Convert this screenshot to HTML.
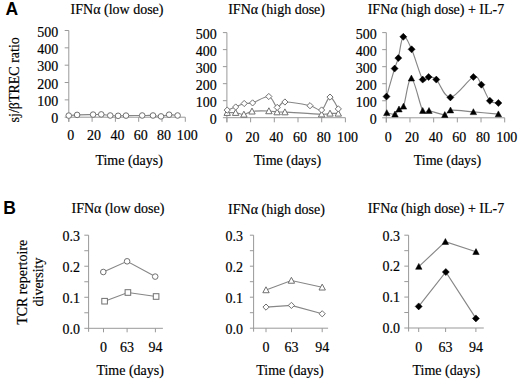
<!DOCTYPE html>
<html><head><meta charset="utf-8"><style>
html,body{margin:0;padding:0;background:#fff;width:520px;height:382px;overflow:hidden}
svg{display:block}
text{font-family:"Liberation Serif", serif;fill:#000;stroke:#000;stroke-width:0.18px}
text.pl{font-family:"Liberation Sans", sans-serif;font-weight:bold;stroke:none}
</style></head><body>
<svg width="520" height="382" viewBox="0 0 520 382">
<rect width="520" height="382" fill="#fff"/>
<line x1="68.80" y1="30.50" x2="68.80" y2="121.80" stroke="#999" stroke-width="1"/>
<line x1="64.70" y1="30.50" x2="68.80" y2="30.50" stroke="#999" stroke-width="1"/>
<text x="58.30" y="36.50" text-anchor="end" font-size="14" >500</text>
<line x1="64.70" y1="47.84" x2="68.80" y2="47.84" stroke="#999" stroke-width="1"/>
<text x="58.30" y="53.84" text-anchor="end" font-size="14" >400</text>
<line x1="64.70" y1="65.18" x2="68.80" y2="65.18" stroke="#999" stroke-width="1"/>
<text x="58.30" y="71.18" text-anchor="end" font-size="14" >300</text>
<line x1="64.70" y1="82.52" x2="68.80" y2="82.52" stroke="#999" stroke-width="1"/>
<text x="58.30" y="88.52" text-anchor="end" font-size="14" >200</text>
<line x1="64.70" y1="99.86" x2="68.80" y2="99.86" stroke="#999" stroke-width="1"/>
<text x="58.30" y="105.86" text-anchor="end" font-size="14" >100</text>
<line x1="64.70" y1="117.20" x2="68.80" y2="117.20" stroke="#999" stroke-width="1"/>
<text x="58.30" y="123.20" text-anchor="end" font-size="14" >0</text>
<line x1="68.80" y1="117.20" x2="185.30" y2="117.20" stroke="#999" stroke-width="1"/>
<line x1="68.80" y1="117.20" x2="68.80" y2="121.80" stroke="#999" stroke-width="1"/>
<text x="70.80" y="139.90" text-anchor="middle" font-size="14" >0</text>
<line x1="92.10" y1="117.20" x2="92.10" y2="121.80" stroke="#999" stroke-width="1"/>
<text x="94.10" y="139.90" text-anchor="middle" font-size="14" >20</text>
<line x1="115.40" y1="117.20" x2="115.40" y2="121.80" stroke="#999" stroke-width="1"/>
<text x="117.40" y="139.90" text-anchor="middle" font-size="14" >40</text>
<line x1="138.70" y1="117.20" x2="138.70" y2="121.80" stroke="#999" stroke-width="1"/>
<text x="140.70" y="139.90" text-anchor="middle" font-size="14" >60</text>
<line x1="162.00" y1="117.20" x2="162.00" y2="121.80" stroke="#999" stroke-width="1"/>
<text x="164.00" y="139.90" text-anchor="middle" font-size="14" >80</text>
<line x1="185.30" y1="117.20" x2="185.30" y2="121.80" stroke="#999" stroke-width="1"/>
<text x="187.30" y="139.90" text-anchor="middle" font-size="14" >100</text>
<line x1="226.90" y1="32.60" x2="226.90" y2="122.30" stroke="#999" stroke-width="1"/>
<line x1="222.90" y1="32.60" x2="226.90" y2="32.60" stroke="#999" stroke-width="1"/>
<text x="216.70" y="38.60" text-anchor="end" font-size="14" >500</text>
<line x1="222.90" y1="49.62" x2="226.90" y2="49.62" stroke="#999" stroke-width="1"/>
<text x="216.70" y="55.62" text-anchor="end" font-size="14" >400</text>
<line x1="222.90" y1="66.64" x2="226.90" y2="66.64" stroke="#999" stroke-width="1"/>
<text x="216.70" y="72.64" text-anchor="end" font-size="14" >300</text>
<line x1="222.90" y1="83.66" x2="226.90" y2="83.66" stroke="#999" stroke-width="1"/>
<text x="216.70" y="89.66" text-anchor="end" font-size="14" >200</text>
<line x1="222.90" y1="100.68" x2="226.90" y2="100.68" stroke="#999" stroke-width="1"/>
<text x="216.70" y="106.68" text-anchor="end" font-size="14" >100</text>
<line x1="222.90" y1="117.70" x2="226.90" y2="117.70" stroke="#999" stroke-width="1"/>
<text x="216.70" y="123.70" text-anchor="end" font-size="14" >0</text>
<line x1="226.90" y1="117.70" x2="345.40" y2="117.70" stroke="#999" stroke-width="1"/>
<line x1="226.90" y1="117.70" x2="226.90" y2="122.30" stroke="#999" stroke-width="1"/>
<text x="228.90" y="141.80" text-anchor="middle" font-size="14" >0</text>
<line x1="250.60" y1="117.70" x2="250.60" y2="122.30" stroke="#999" stroke-width="1"/>
<text x="252.60" y="141.80" text-anchor="middle" font-size="14" >20</text>
<line x1="274.30" y1="117.70" x2="274.30" y2="122.30" stroke="#999" stroke-width="1"/>
<text x="276.30" y="141.80" text-anchor="middle" font-size="14" >40</text>
<line x1="298.00" y1="117.70" x2="298.00" y2="122.30" stroke="#999" stroke-width="1"/>
<text x="300.00" y="141.80" text-anchor="middle" font-size="14" >60</text>
<line x1="321.70" y1="117.70" x2="321.70" y2="122.30" stroke="#999" stroke-width="1"/>
<text x="323.70" y="141.80" text-anchor="middle" font-size="14" >80</text>
<line x1="345.40" y1="117.70" x2="345.40" y2="122.30" stroke="#999" stroke-width="1"/>
<text x="347.40" y="141.80" text-anchor="middle" font-size="14" >100</text>
<line x1="386.30" y1="32.60" x2="386.30" y2="122.40" stroke="#999" stroke-width="1"/>
<line x1="382.20" y1="32.60" x2="386.30" y2="32.60" stroke="#999" stroke-width="1"/>
<text x="376.80" y="38.60" text-anchor="end" font-size="14" >500</text>
<line x1="382.20" y1="49.64" x2="386.30" y2="49.64" stroke="#999" stroke-width="1"/>
<text x="376.80" y="55.64" text-anchor="end" font-size="14" >400</text>
<line x1="382.20" y1="66.68" x2="386.30" y2="66.68" stroke="#999" stroke-width="1"/>
<text x="376.80" y="72.68" text-anchor="end" font-size="14" >300</text>
<line x1="382.20" y1="83.72" x2="386.30" y2="83.72" stroke="#999" stroke-width="1"/>
<text x="376.80" y="89.72" text-anchor="end" font-size="14" >200</text>
<line x1="382.20" y1="100.76" x2="386.30" y2="100.76" stroke="#999" stroke-width="1"/>
<text x="376.80" y="106.76" text-anchor="end" font-size="14" >100</text>
<line x1="382.20" y1="117.80" x2="386.30" y2="117.80" stroke="#999" stroke-width="1"/>
<text x="376.80" y="123.80" text-anchor="end" font-size="14" >0</text>
<line x1="386.30" y1="117.80" x2="504.70" y2="117.80" stroke="#999" stroke-width="1"/>
<line x1="386.30" y1="117.80" x2="386.30" y2="122.40" stroke="#999" stroke-width="1"/>
<text x="388.30" y="141.80" text-anchor="middle" font-size="14" >0</text>
<line x1="409.98" y1="117.80" x2="409.98" y2="122.40" stroke="#999" stroke-width="1"/>
<text x="411.98" y="141.80" text-anchor="middle" font-size="14" >20</text>
<line x1="433.66" y1="117.80" x2="433.66" y2="122.40" stroke="#999" stroke-width="1"/>
<text x="435.66" y="141.80" text-anchor="middle" font-size="14" >40</text>
<line x1="457.34" y1="117.80" x2="457.34" y2="122.40" stroke="#999" stroke-width="1"/>
<text x="459.34" y="141.80" text-anchor="middle" font-size="14" >60</text>
<line x1="481.02" y1="117.80" x2="481.02" y2="122.40" stroke="#999" stroke-width="1"/>
<text x="483.02" y="141.80" text-anchor="middle" font-size="14" >80</text>
<line x1="504.70" y1="117.80" x2="504.70" y2="122.40" stroke="#999" stroke-width="1"/>
<text x="506.70" y="141.80" text-anchor="middle" font-size="14" >100</text>
<text x="70.60" y="13.90" text-anchor="start" font-size="14" >IFNα (low dose)</text>
<text x="228.20" y="13.70" text-anchor="start" font-size="14" >IFNα (high dose)</text>
<text x="367.70" y="13.70" text-anchor="start" font-size="14" >IFNα (high dose) + IL-7</text>
<text x="95.40" y="164.70" text-anchor="start" font-size="14" >Time (days)</text>
<text x="253.70" y="164.70" text-anchor="start" font-size="14" >Time (days)</text>
<text x="413.70" y="164.70" text-anchor="start" font-size="14" >Time (days)</text>
<text transform="translate(18.5,79.8) rotate(-90)" text-anchor="middle" font-size="14">sj/βTREC ratio</text>
<path d="M68.75,115.60 C70.14,115.48 73.04,115.07 77.10,114.90 C81.16,114.73 89.07,114.68 93.10,114.60 C97.12,114.52 98.39,114.25 101.25,114.40 C104.11,114.55 107.44,115.27 110.25,115.50 C113.06,115.73 115.47,115.78 118.10,115.80 C120.72,115.82 121.98,115.65 126.00,115.60 C130.02,115.55 137.70,115.52 142.20,115.50 C146.70,115.48 149.87,115.35 153.00,115.50 C156.13,115.65 158.32,116.53 161.00,116.40 C163.68,116.27 166.33,114.85 169.10,114.70 C171.87,114.55 176.18,115.37 177.60,115.50" fill="none" stroke="#868686" stroke-width="1.15"/>
<circle cx="68.75" cy="115.60" r="2.8" fill="#fff" stroke="#707070" stroke-width="1"/>
<circle cx="77.10" cy="114.90" r="2.8" fill="#fff" stroke="#707070" stroke-width="1"/>
<circle cx="93.10" cy="114.60" r="2.8" fill="#fff" stroke="#707070" stroke-width="1"/>
<circle cx="101.25" cy="114.40" r="2.8" fill="#fff" stroke="#707070" stroke-width="1"/>
<circle cx="110.25" cy="115.50" r="2.8" fill="#fff" stroke="#707070" stroke-width="1"/>
<circle cx="118.10" cy="115.80" r="2.8" fill="#fff" stroke="#707070" stroke-width="1"/>
<circle cx="126.00" cy="115.60" r="2.8" fill="#fff" stroke="#707070" stroke-width="1"/>
<circle cx="142.20" cy="115.50" r="2.8" fill="#fff" stroke="#707070" stroke-width="1"/>
<circle cx="153.00" cy="115.50" r="2.8" fill="#fff" stroke="#707070" stroke-width="1"/>
<circle cx="161.00" cy="116.40" r="2.8" fill="#fff" stroke="#707070" stroke-width="1"/>
<circle cx="169.10" cy="114.70" r="2.8" fill="#fff" stroke="#707070" stroke-width="1"/>
<circle cx="177.60" cy="115.50" r="2.8" fill="#fff" stroke="#707070" stroke-width="1"/>
<path d="M227.20,112.70 C228.60,112.70 232.82,112.42 235.60,112.70 C238.38,112.98 241.17,114.63 243.90,114.40 C246.63,114.17 247.83,111.87 252.00,111.30 C256.17,110.73 264.72,110.87 268.90,111.00 C273.08,111.13 274.43,111.92 277.10,112.10 C279.77,112.28 277.48,111.75 284.90,112.10 C292.32,112.45 314.08,113.98 321.60,114.20 C329.12,114.42 327.22,113.53 330.00,113.40 C332.78,113.27 336.92,113.40 338.30,113.40" fill="none" stroke="#868686" stroke-width="1.15"/>
<path d="M227.20,110.10 C228.62,109.58 232.87,108.10 235.70,107.00 C238.53,105.90 241.38,104.18 244.20,103.50 C247.02,102.82 248.50,104.07 252.60,102.90 C256.70,101.73 264.70,95.75 268.80,96.50 C272.90,97.25 274.52,106.48 277.20,107.40 C279.88,108.32 279.43,102.28 284.90,102.00 C290.37,101.72 303.88,104.37 310.00,105.70 C316.12,107.03 318.27,111.43 321.60,110.00 C324.93,108.57 327.22,97.28 330.00,97.10 C332.78,96.92 336.92,106.93 338.30,108.90" fill="none" stroke="#868686" stroke-width="1.15"/>
<path d="M227.20,109.50 L230.40,115.42 L224.00,115.42 Z" fill="#fff" stroke="#707070" stroke-width="1"/>
<path d="M235.60,109.50 L238.80,115.42 L232.40,115.42 Z" fill="#fff" stroke="#707070" stroke-width="1"/>
<path d="M243.90,111.20 L247.10,117.12 L240.70,117.12 Z" fill="#fff" stroke="#707070" stroke-width="1"/>
<path d="M252.00,108.10 L255.20,114.02 L248.80,114.02 Z" fill="#fff" stroke="#707070" stroke-width="1"/>
<path d="M268.90,107.80 L272.10,113.72 L265.70,113.72 Z" fill="#fff" stroke="#707070" stroke-width="1"/>
<path d="M277.10,108.90 L280.30,114.82 L273.90,114.82 Z" fill="#fff" stroke="#707070" stroke-width="1"/>
<path d="M284.90,108.90 L288.10,114.82 L281.70,114.82 Z" fill="#fff" stroke="#707070" stroke-width="1"/>
<path d="M321.60,111.00 L324.80,116.92 L318.40,116.92 Z" fill="#fff" stroke="#707070" stroke-width="1"/>
<path d="M330.00,110.20 L333.20,116.12 L326.80,116.12 Z" fill="#fff" stroke="#707070" stroke-width="1"/>
<path d="M338.30,110.20 L341.50,116.12 L335.10,116.12 Z" fill="#fff" stroke="#707070" stroke-width="1"/>
<path d="M227.20,107.00 L230.30,110.10 L227.20,113.20 L224.10,110.10 Z" fill="#fff" stroke="#707070" stroke-width="1"/>
<path d="M235.70,103.90 L238.80,107.00 L235.70,110.10 L232.60,107.00 Z" fill="#fff" stroke="#707070" stroke-width="1"/>
<path d="M244.20,100.40 L247.30,103.50 L244.20,106.60 L241.10,103.50 Z" fill="#fff" stroke="#707070" stroke-width="1"/>
<path d="M252.60,99.80 L255.70,102.90 L252.60,106.00 L249.50,102.90 Z" fill="#fff" stroke="#707070" stroke-width="1"/>
<path d="M268.80,93.40 L271.90,96.50 L268.80,99.60 L265.70,96.50 Z" fill="#fff" stroke="#707070" stroke-width="1"/>
<path d="M277.20,104.30 L280.30,107.40 L277.20,110.50 L274.10,107.40 Z" fill="#fff" stroke="#707070" stroke-width="1"/>
<path d="M284.90,98.90 L288.00,102.00 L284.90,105.10 L281.80,102.00 Z" fill="#fff" stroke="#707070" stroke-width="1"/>
<path d="M310.00,102.60 L313.10,105.70 L310.00,108.80 L306.90,105.70 Z" fill="#fff" stroke="#707070" stroke-width="1"/>
<path d="M321.60,106.90 L324.70,110.00 L321.60,113.10 L318.50,110.00 Z" fill="#fff" stroke="#707070" stroke-width="1"/>
<path d="M330.00,94.00 L333.10,97.10 L330.00,100.20 L326.90,97.10 Z" fill="#fff" stroke="#707070" stroke-width="1"/>
<path d="M338.30,105.80 L341.40,108.90 L338.30,112.00 L335.20,108.90 Z" fill="#fff" stroke="#707070" stroke-width="1"/>
<path d="M386.80,112.90 C388.17,113.12 392.97,114.82 395.00,114.20 C397.03,113.58 397.58,110.50 399.00,109.20 C400.42,107.90 401.43,111.55 403.50,106.40 C405.57,101.25 408.20,77.58 411.40,78.30 C414.60,79.02 419.77,105.30 422.70,110.70 C425.63,116.10 425.32,110.02 429.00,110.70 C432.68,111.38 441.22,114.88 444.80,114.80 C448.38,114.72 445.73,110.68 450.50,110.20 C455.27,109.72 465.42,111.25 473.40,111.90 C481.38,112.55 494.23,113.73 498.40,114.10" fill="none" stroke="#868686" stroke-width="1.15"/>
<path d="M386.50,96.60 C387.85,91.93 392.63,75.02 394.60,68.60 C396.57,62.18 396.85,63.40 398.30,58.10 C399.75,52.80 401.08,38.27 403.30,36.80 C405.52,35.33 408.37,42.17 411.60,49.30 C414.83,56.43 419.87,74.98 422.70,79.60 C425.53,84.22 426.33,77.00 428.60,77.00 C430.87,77.00 432.67,76.20 436.30,79.60 C439.93,83.00 444.22,97.83 450.40,97.40 C456.58,96.97 468.23,79.12 473.40,77.00 C478.57,74.88 478.65,80.73 481.40,84.70 C484.15,88.67 487.07,97.75 489.90,100.80 C492.73,103.85 496.98,102.63 498.40,103.00" fill="none" stroke="#868686" stroke-width="1.15"/>
<path d="M386.80,109.70 L390.00,115.62 L383.60,115.62 Z" fill="#000" stroke="#000" stroke-width="0.5"/>
<path d="M395.00,111.00 L398.20,116.92 L391.80,116.92 Z" fill="#000" stroke="#000" stroke-width="0.5"/>
<path d="M399.00,106.00 L402.20,111.92 L395.80,111.92 Z" fill="#000" stroke="#000" stroke-width="0.5"/>
<path d="M403.50,103.20 L406.70,109.12 L400.30,109.12 Z" fill="#000" stroke="#000" stroke-width="0.5"/>
<path d="M411.40,75.10 L414.60,81.02 L408.20,81.02 Z" fill="#000" stroke="#000" stroke-width="0.5"/>
<path d="M422.70,107.50 L425.90,113.42 L419.50,113.42 Z" fill="#000" stroke="#000" stroke-width="0.5"/>
<path d="M429.00,107.50 L432.20,113.42 L425.80,113.42 Z" fill="#000" stroke="#000" stroke-width="0.5"/>
<path d="M444.80,111.60 L448.00,117.52 L441.60,117.52 Z" fill="#000" stroke="#000" stroke-width="0.5"/>
<path d="M450.50,107.00 L453.70,112.92 L447.30,112.92 Z" fill="#000" stroke="#000" stroke-width="0.5"/>
<path d="M473.40,108.70 L476.60,114.62 L470.20,114.62 Z" fill="#000" stroke="#000" stroke-width="0.5"/>
<path d="M498.40,110.90 L501.60,116.82 L495.20,116.82 Z" fill="#000" stroke="#000" stroke-width="0.5"/>
<path d="M386.50,93.10 L390.00,96.60 L386.50,100.10 L383.00,96.60 Z" fill="#000" stroke="#000" stroke-width="0.5"/>
<path d="M394.60,65.10 L398.10,68.60 L394.60,72.10 L391.10,68.60 Z" fill="#000" stroke="#000" stroke-width="0.5"/>
<path d="M398.30,54.60 L401.80,58.10 L398.30,61.60 L394.80,58.10 Z" fill="#000" stroke="#000" stroke-width="0.5"/>
<path d="M403.30,33.30 L406.80,36.80 L403.30,40.30 L399.80,36.80 Z" fill="#000" stroke="#000" stroke-width="0.5"/>
<path d="M411.60,45.80 L415.10,49.30 L411.60,52.80 L408.10,49.30 Z" fill="#000" stroke="#000" stroke-width="0.5"/>
<path d="M422.70,76.10 L426.20,79.60 L422.70,83.10 L419.20,79.60 Z" fill="#000" stroke="#000" stroke-width="0.5"/>
<path d="M428.60,73.50 L432.10,77.00 L428.60,80.50 L425.10,77.00 Z" fill="#000" stroke="#000" stroke-width="0.5"/>
<path d="M436.30,76.10 L439.80,79.60 L436.30,83.10 L432.80,79.60 Z" fill="#000" stroke="#000" stroke-width="0.5"/>
<path d="M450.40,93.90 L453.90,97.40 L450.40,100.90 L446.90,97.40 Z" fill="#000" stroke="#000" stroke-width="0.5"/>
<path d="M473.40,73.50 L476.90,77.00 L473.40,80.50 L469.90,77.00 Z" fill="#000" stroke="#000" stroke-width="0.5"/>
<path d="M481.40,81.20 L484.90,84.70 L481.40,88.20 L477.90,84.70 Z" fill="#000" stroke="#000" stroke-width="0.5"/>
<path d="M489.90,97.30 L493.40,100.80 L489.90,104.30 L486.40,100.80 Z" fill="#000" stroke="#000" stroke-width="0.5"/>
<path d="M498.40,99.50 L501.90,103.00 L498.40,106.50 L494.90,103.00 Z" fill="#000" stroke="#000" stroke-width="0.5"/>
<line x1="88.60" y1="235.20" x2="88.60" y2="331.80" stroke="#999" stroke-width="1"/>
<line x1="84.30" y1="235.20" x2="88.60" y2="235.20" stroke="#999" stroke-width="1"/>
<text x="80.00" y="240.50" text-anchor="end" font-size="14" >0.3</text>
<line x1="84.30" y1="250.72" x2="88.60" y2="250.72" stroke="#999" stroke-width="1"/>
<line x1="84.30" y1="266.23" x2="88.60" y2="266.23" stroke="#999" stroke-width="1"/>
<text x="80.00" y="271.53" text-anchor="end" font-size="14" >0.2</text>
<line x1="84.30" y1="281.75" x2="88.60" y2="281.75" stroke="#999" stroke-width="1"/>
<line x1="84.30" y1="297.27" x2="88.60" y2="297.27" stroke="#999" stroke-width="1"/>
<text x="80.00" y="302.57" text-anchor="end" font-size="14" >0.1</text>
<line x1="84.30" y1="312.78" x2="88.60" y2="312.78" stroke="#999" stroke-width="1"/>
<line x1="84.30" y1="328.30" x2="88.60" y2="328.30" stroke="#999" stroke-width="1"/>
<text x="80.00" y="333.60" text-anchor="end" font-size="14" >0.0</text>
<line x1="88.60" y1="328.30" x2="162.90" y2="328.30" stroke="#999" stroke-width="1"/>
<line x1="103.50" y1="328.30" x2="103.50" y2="332.30" stroke="#999" stroke-width="1"/>
<text x="103.50" y="352.20" text-anchor="middle" font-size="14" >0</text>
<line x1="127.10" y1="328.30" x2="127.10" y2="332.30" stroke="#999" stroke-width="1"/>
<text x="127.10" y="352.20" text-anchor="middle" font-size="14" >63</text>
<line x1="155.40" y1="328.30" x2="155.40" y2="332.30" stroke="#999" stroke-width="1"/>
<text x="155.40" y="352.20" text-anchor="middle" font-size="14" >94</text>
<line x1="253.60" y1="235.20" x2="253.60" y2="331.70" stroke="#999" stroke-width="1"/>
<line x1="249.90" y1="235.20" x2="253.60" y2="235.20" stroke="#999" stroke-width="1"/>
<text x="243.00" y="240.50" text-anchor="end" font-size="14" >0.3</text>
<line x1="249.90" y1="250.70" x2="253.60" y2="250.70" stroke="#999" stroke-width="1"/>
<line x1="249.90" y1="266.20" x2="253.60" y2="266.20" stroke="#999" stroke-width="1"/>
<text x="243.00" y="271.50" text-anchor="end" font-size="14" >0.2</text>
<line x1="249.90" y1="281.70" x2="253.60" y2="281.70" stroke="#999" stroke-width="1"/>
<line x1="249.90" y1="297.20" x2="253.60" y2="297.20" stroke="#999" stroke-width="1"/>
<text x="243.00" y="302.50" text-anchor="end" font-size="14" >0.1</text>
<line x1="249.90" y1="312.70" x2="253.60" y2="312.70" stroke="#999" stroke-width="1"/>
<line x1="249.90" y1="328.20" x2="253.60" y2="328.20" stroke="#999" stroke-width="1"/>
<text x="243.00" y="333.50" text-anchor="end" font-size="14" >0.0</text>
<line x1="253.60" y1="328.20" x2="328.10" y2="328.20" stroke="#999" stroke-width="1"/>
<line x1="266.00" y1="328.20" x2="266.00" y2="332.20" stroke="#999" stroke-width="1"/>
<text x="266.00" y="352.20" text-anchor="middle" font-size="14" >0</text>
<line x1="291.50" y1="328.20" x2="291.50" y2="332.20" stroke="#999" stroke-width="1"/>
<text x="291.50" y="352.20" text-anchor="middle" font-size="14" >63</text>
<line x1="322.20" y1="328.20" x2="322.20" y2="332.20" stroke="#999" stroke-width="1"/>
<text x="322.20" y="352.20" text-anchor="middle" font-size="14" >94</text>
<line x1="408.60" y1="235.20" x2="408.60" y2="331.50" stroke="#999" stroke-width="1"/>
<line x1="404.30" y1="235.20" x2="408.60" y2="235.20" stroke="#999" stroke-width="1"/>
<text x="400.00" y="240.50" text-anchor="end" font-size="14" >0.3</text>
<line x1="404.30" y1="250.67" x2="408.60" y2="250.67" stroke="#999" stroke-width="1"/>
<line x1="404.30" y1="266.13" x2="408.60" y2="266.13" stroke="#999" stroke-width="1"/>
<text x="400.00" y="271.43" text-anchor="end" font-size="14" >0.2</text>
<line x1="404.30" y1="281.60" x2="408.60" y2="281.60" stroke="#999" stroke-width="1"/>
<line x1="404.30" y1="297.07" x2="408.60" y2="297.07" stroke="#999" stroke-width="1"/>
<text x="400.00" y="302.37" text-anchor="end" font-size="14" >0.1</text>
<line x1="404.30" y1="312.53" x2="408.60" y2="312.53" stroke="#999" stroke-width="1"/>
<line x1="404.30" y1="328.00" x2="408.60" y2="328.00" stroke="#999" stroke-width="1"/>
<text x="400.00" y="333.30" text-anchor="end" font-size="14" >0.0</text>
<line x1="408.60" y1="328.00" x2="483.80" y2="328.00" stroke="#999" stroke-width="1"/>
<line x1="418.70" y1="328.00" x2="418.70" y2="332.00" stroke="#999" stroke-width="1"/>
<text x="418.70" y="352.20" text-anchor="middle" font-size="14" >0</text>
<line x1="445.60" y1="328.00" x2="445.60" y2="332.00" stroke="#999" stroke-width="1"/>
<text x="445.60" y="352.20" text-anchor="middle" font-size="14" >63</text>
<line x1="475.90" y1="328.00" x2="475.90" y2="332.00" stroke="#999" stroke-width="1"/>
<text x="475.90" y="352.20" text-anchor="middle" font-size="14" >94</text>
<text x="71.50" y="212.90" text-anchor="start" font-size="14" >IFNα (low dose)</text>
<text x="228.10" y="213.60" text-anchor="start" font-size="14" >IFNα (high dose)</text>
<text x="367.70" y="213.20" text-anchor="start" font-size="14" >IFNα (high dose) + IL-7</text>
<text x="96.40" y="374.60" text-anchor="start" font-size="14" >Time (days)</text>
<text x="256.20" y="374.60" text-anchor="start" font-size="14" >Time (days)</text>
<text x="412.50" y="374.60" text-anchor="start" font-size="14" >Time (days)</text>
<text transform="translate(26.8,282.3) rotate(-90)" text-anchor="middle" font-size="14">TCR repertoire</text>
<text transform="translate(42.8,282.0) rotate(-90)" text-anchor="middle" font-size="14">diversity</text>
<path d="M103.30,272.00 L127.10,261.30 L155.20,276.60" fill="none" stroke="#868686" stroke-width="1.15"/>
<path d="M104.60,301.20 L127.90,292.50 L156.10,296.50" fill="none" stroke="#868686" stroke-width="1.15"/>
<circle cx="103.30" cy="272.00" r="2.8" fill="#fff" stroke="#707070" stroke-width="1"/>
<circle cx="127.10" cy="261.30" r="2.8" fill="#fff" stroke="#707070" stroke-width="1"/>
<circle cx="155.20" cy="276.60" r="2.8" fill="#fff" stroke="#707070" stroke-width="1"/>
<rect x="101.80" y="298.40" width="5.6" height="5.6" fill="#fff" stroke="#707070" stroke-width="1"/>
<rect x="125.10" y="289.70" width="5.6" height="5.6" fill="#fff" stroke="#707070" stroke-width="1"/>
<rect x="153.30" y="293.70" width="5.6" height="5.6" fill="#fff" stroke="#707070" stroke-width="1"/>
<path d="M266.00,290.00 L291.40,280.50 L322.20,287.30" fill="none" stroke="#868686" stroke-width="1.15"/>
<path d="M266.00,307.10 L291.40,305.40 L322.20,313.80" fill="none" stroke="#868686" stroke-width="1.15"/>
<path d="M266.00,286.80 L269.20,292.72 L262.80,292.72 Z" fill="#fff" stroke="#707070" stroke-width="1"/>
<path d="M291.40,277.30 L294.60,283.22 L288.20,283.22 Z" fill="#fff" stroke="#707070" stroke-width="1"/>
<path d="M322.20,284.10 L325.40,290.02 L319.00,290.02 Z" fill="#fff" stroke="#707070" stroke-width="1"/>
<path d="M266.00,304.00 L269.10,307.10 L266.00,310.20 L262.90,307.10 Z" fill="#fff" stroke="#707070" stroke-width="1"/>
<path d="M291.40,302.30 L294.50,305.40 L291.40,308.50 L288.30,305.40 Z" fill="#fff" stroke="#707070" stroke-width="1"/>
<path d="M322.20,310.70 L325.30,313.80 L322.20,316.90 L319.10,313.80 Z" fill="#fff" stroke="#707070" stroke-width="1"/>
<path d="M418.80,266.60 L445.40,241.70 L476.00,251.80" fill="none" stroke="#868686" stroke-width="1.15"/>
<path d="M418.70,306.40 L445.80,272.00 L475.90,318.40" fill="none" stroke="#868686" stroke-width="1.15"/>
<path d="M418.80,263.40 L422.00,269.32 L415.60,269.32 Z" fill="#000" stroke="#000" stroke-width="0.5"/>
<path d="M445.40,238.50 L448.60,244.42 L442.20,244.42 Z" fill="#000" stroke="#000" stroke-width="0.5"/>
<path d="M476.00,248.60 L479.20,254.52 L472.80,254.52 Z" fill="#000" stroke="#000" stroke-width="0.5"/>
<path d="M418.70,302.90 L422.20,306.40 L418.70,309.90 L415.20,306.40 Z" fill="#000" stroke="#000" stroke-width="0.5"/>
<path d="M445.80,268.50 L449.30,272.00 L445.80,275.50 L442.30,272.00 Z" fill="#000" stroke="#000" stroke-width="0.5"/>
<path d="M475.90,314.90 L479.40,318.40 L475.90,321.90 L472.40,318.40 Z" fill="#000" stroke="#000" stroke-width="0.5"/>
<text class="pl" x="5.6" y="14.7" font-size="17.5">A</text>
<text class="pl" x="3.3" y="213.9" font-size="17.5">B</text>
</svg>
</body></html>
